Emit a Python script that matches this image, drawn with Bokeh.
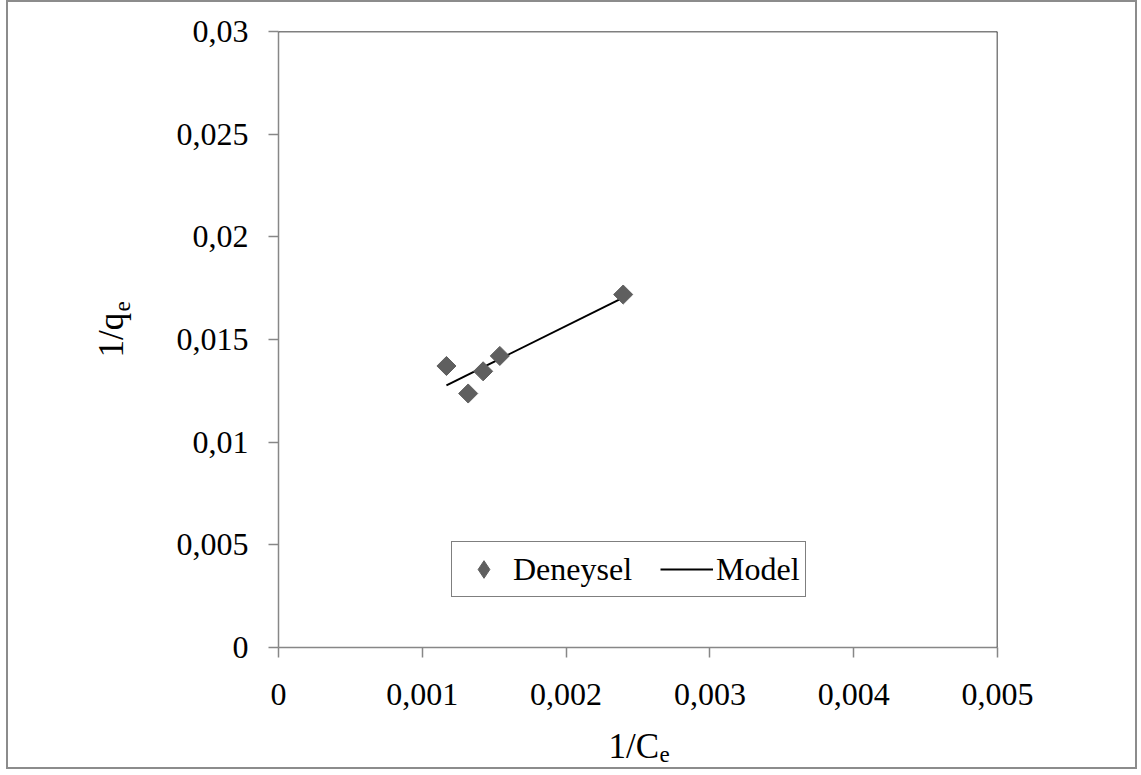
import math
from bokeh.plotting import figure
from bokeh.models import (Range1d, FixedTicker, CustomJSTickFormatter, Legend,
                          LegendItem, Label, Span, ColumnDataSource)
from bokeh.embed import file_html
from bokeh.resources import INLINE

# ---- data ----
deneysel_x = [0.001168, 0.001319, 0.001423, 0.001539, 0.002397]
deneysel_y = [0.01371, 0.01237, 0.01345, 0.01420, 0.01719]
model_x = [0.001168, 0.002397]
model_y = [0.01277, 0.01704]

x_ticks = [0, 0.001, 0.002, 0.003, 0.004, 0.005]
x_tick_labels = ["0", "0,001", "0,002", "0,003", "0,004", "0,005"]
y_ticks = [0, 0.005, 0.01, 0.015, 0.02, 0.025, 0.03]
y_tick_labels = ["0", "0,005", "0,01", "0,015", "0,02", "0,025", "0,03"]

FONT = "Liberation Serif"
MARKER_COLOR = "#5f5f5f"

# frame geometry (page pixels)
FL, FR, FT, FB = 278, 997, 31, 647
X0, X1, Y0, Y1 = 0, 0.005, 0, 0.03


def px2x(px):
    return X0 + (px - FL) / (FR - FL) * (X1 - X0)


def py2y(py):
    return Y0 + (FB - py) / (FB - FT) * (Y1 - Y0)


p = figure(width=1131, height=769, output_backend="svg", toolbar_location=None,
           x_range=Range1d(X0, X1), y_range=Range1d(Y0, Y1),
           min_border_left=FL - 8, min_border_right=1139 - FR,
           min_border_top=FT - 2, min_border_bottom=771 - FB)
p.styles = {"border": "2px solid #8c8c8c", "margin-left": "6px", "margin-top": "0px"}
p.outline_line_color = None
p.background_fill_color = "white"
p.border_fill_color = "white"
p.xgrid.visible = False
p.ygrid.visible = False


def fmt(tick_values, tick_labels):
    return CustomJSTickFormatter(args=dict(tv=tick_values, tl=tick_labels), code="""
        for (let i = 0; i < tv.length; i++) {
            if (Math.abs(tv[i] - tick) < 1e-9) { return tl[i]; }
        }
        return "";
    """)


for ax, tvals, tlabs in ((p.xaxis[0], x_ticks, x_tick_labels), (p.yaxis[0], y_ticks, y_tick_labels)):
    ax.ticker = FixedTicker(ticks=tvals)
    ax.formatter = fmt(tvals, tlabs)
    ax.axis_line_color = "#878787"
    ax.axis_line_width = 1.5
    ax.major_tick_line_color = "#878787"
    ax.major_tick_line_width = 1.5
    ax.major_tick_out = 10
    ax.major_tick_in = 0
    ax.minor_tick_line_color = None
    ax.major_label_text_font = FONT
    ax.major_label_text_font_size = "32px"
    ax.major_label_text_color = "black"
    ax.axis_label = None
p.yaxis[0].major_label_standoff = 20
p.xaxis[0].major_label_standoff = 26

# top and right frame edges
p.add_layout(Span(location=Y1, dimension="width", line_color="black", line_width=1.5))
p.add_layout(Span(location=X1, dimension="height", line_color="black", line_width=1.5))

line_r = p.line(model_x, model_y, line_color="black", line_width=2)
src = ColumnDataSource(dict(x=deneysel_x, y=deneysel_y))
pts_r = p.scatter("x", "y", source=src, marker="square", size=13.5, angle=math.pi / 4,
                  fill_color=MARKER_COLOR, line_color=MARKER_COLOR)
# legend-only glyph (diamond) for the experimental series; its point lies outside the view
leg_src = ColumnDataSource(dict(x=[-1.0], y=[-1.0]))
leg_r = p.scatter("x", "y", source=leg_src, marker="diamond",
                  fill_color=MARKER_COLOR, line_color=MARKER_COLOR)

legend = Legend(items=[LegendItem(label="Deneysel", renderers=[leg_r], index=0),
                       LegendItem(label="Model", renderers=[line_r])],
                location=(173, 50), orientation="horizontal",
                label_text_font=FONT, label_text_font_size="32px", label_text_color="black",
                glyph_width=53, glyph_height=44, label_standoff=3, spacing=28,
                padding=5, margin=0,
                border_line_color="black", border_line_width=1.5,
                background_fill_color="white", background_fill_alpha=1)
p.add_layout(legend, "center")

# axis titles with subscripts (placed in side panels so they are not clipped)
p.add_layout(Label(x=px2x(608), y=py2y(746), text="1/C", text_font=FONT, text_color="black",
                   text_font_size="35px", text_align="left", text_baseline="middle"), "below")
p.add_layout(Label(x=px2x(659), y=py2y(754), text="e", text_font=FONT, text_color="black",
                   text_font_size="23px", text_align="left", text_baseline="middle"), "below")
p.add_layout(Label(x=px2x(111), y=py2y(357), text="1/q", text_font=FONT, angle=math.pi / 2,
                   text_color="black",
                   text_font_size="35px", text_align="left", text_baseline="middle"), "left")
p.add_layout(Label(x=px2x(122), y=py2y(311), text="e", text_font=FONT, angle=math.pi / 2,
                   text_color="black",
                   text_font_size="23px", text_align="left", text_baseline="middle"), "left")

open("out.html", "w").write(file_html(p, INLINE))
